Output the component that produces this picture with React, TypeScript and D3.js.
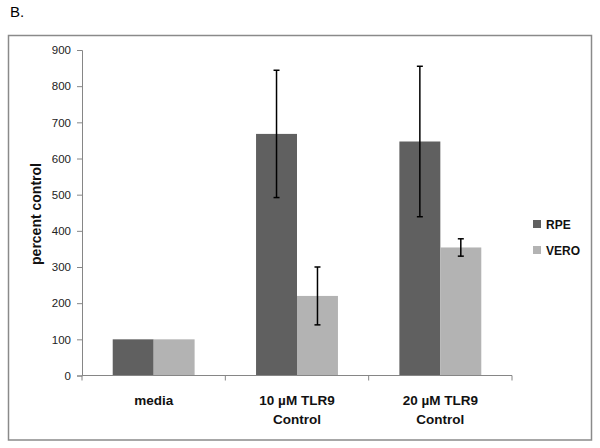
import React, { useRef, useEffect } from 'react';
import * as d3 from 'd3';

const categories = ['media', '10 µM TLR9 Control', '20 µM TLR9 Control'];
const categoryLines = [['media'], ['10 µM TLR9', 'Control'], ['20 µM TLR9', 'Control']];
const series = ['RPE', 'VERO'];
const rpeValues = [100, 668, 647];
const veroValues = [100, 220, 354];
const rpeErrors = [0, 176, 208];
const veroErrors = [0, 80, 24];
const yTicks = [0, 100, 200, 300, 400, 500, 600, 700, 800, 900];

const colors: Record<string, string> = { RPE: '#606060', VERO: '#b3b3b3' };

function App() {
  const ref = useRef<SVGSVGElement>(null);
  const outerWidth = 600, outerHeight = 448;
  const margin = { top: 50, left: 82, right: 88, bottom: 72.5 };

  useEffect(() => {
    const svg = d3.select(ref.current);
    svg.selectAll('*').remove();

    const width = outerWidth - margin.left - margin.right;
    const height = outerHeight - margin.top - margin.bottom;

    const rows = categories.map((c, i) => ({
      cat: c,
      values: [
        { key: 'RPE', value: rpeValues[i], err: rpeErrors[i] },
        { key: 'VERO', value: veroValues[i], err: veroErrors[i] },
      ],
    }));

    // frame
    svg.append('rect')
      .attr('x', 8.5).attr('y', 35.5)
      .attr('width', 583).attr('height', 404.5)
      .attr('fill', 'none').attr('stroke', '#8a8a8a').attr('stroke-width', 1.5);

    svg.append('text')
      .attr('x', 10).attr('y', 17)
      .style('font-family', 'Liberation Sans, Arial, sans-serif')
      .style('font-size', '15px')
      .text('B.');

    const g = svg.append('g').attr('transform', `translate(${margin.left},${margin.top})`);

    const x0 = d3.scaleBand().domain(categories).range([0, width]).padding(0);
    const x1 = d3.scaleBand().domain(series).range([0, x0.bandwidth()]).paddingInner(0).paddingOuter(0.75);
    const y = d3.scaleLinear().domain([0, 900]).range([height, 0]);

    // y axis
    const yAxis = g.append('g')
      .call(d3.axisLeft(y).tickValues(yTicks).tickSize(5).tickPadding(6));
    yAxis.select('.domain').attr('stroke', '#868686');
    yAxis.selectAll('line').attr('stroke', '#868686');
    yAxis.selectAll('text')
      .style('font-family', 'Liberation Sans, Arial, sans-serif')
      .style('font-size', '11.5px')
      .attr('fill', '#222');

    // bars
    const groups = g.selectAll('g.cat').data(rows).enter().append('g')
      .attr('class', 'cat')
      .attr('transform', (d) => `translate(${x0(d.cat)},0)`);

    groups.selectAll('rect').data((d) => d.values).enter().append('rect')
      .attr('x', (d) => x1(d.key)!)
      .attr('y', (d) => y(d.value))
      .attr('width', x1.bandwidth())
      .attr('height', (d) => height - y(d.value))
      .attr('fill', (d) => colors[d.key]);

    // error bars
    const errs = groups.selectAll('g.err').data((d) => d.values.filter((v) => v.err > 0)).enter().append('g')
      .attr('class', 'err');
    const cx = (d: any) => x1(d.key)! + x1.bandwidth() / 2;
    errs.append('line')
      .attr('x1', cx).attr('x2', cx)
      .attr('y1', (d) => y(d.value + d.err)).attr('y2', (d) => y(d.value - d.err))
      .attr('stroke', '#000').attr('stroke-width', 1.5);
    [1, -1].forEach((s) => {
      errs.append('line')
        .attr('x1', (d) => cx(d) - 3).attr('x2', (d) => cx(d) + 3)
        .attr('y1', (d) => y(d.value + s * d.err)).attr('y2', (d) => y(d.value + s * d.err))
        .attr('stroke', '#000').attr('stroke-width', 1.5);
    });

    // x axis
    const xAxis = g.append('g').attr('transform', `translate(0,${height})`);
    xAxis.append('line').attr('x1', 0).attr('x2', width).attr('stroke', '#868686');
    const bounds = [0, ...categories.map((c) => x0(c)! + x0.bandwidth())];
    xAxis.selectAll('line.tick').data(bounds).enter().append('line')
      .attr('class', 'tick')
      .attr('x1', (d) => d).attr('x2', (d) => d)
      .attr('y1', 0).attr('y2', 5)
      .attr('stroke', '#868686');

    const labels = xAxis.selectAll('text').data(categories).enter().append('text')
      .attr('x', (d) => x0(d)! + x0.bandwidth() / 2)
      .attr('y', 29)
      .attr('text-anchor', 'middle')
      .style('font-family', 'Liberation Sans, Arial, sans-serif')
      .style('font-size', '13.5px')
      .style('font-weight', 'bold')
      .attr('fill', '#111');
    labels.each(function (d, i) {
      const t = d3.select(this);
      categoryLines[i].forEach((line, j) => {
        t.append('tspan')
          .attr('x', x0(d)! + x0.bandwidth() / 2)
          .attr('dy', j === 0 ? 0 : 19)
          .text(line);
      });
    });

    // y label
    svg.append('text')
      .attr('transform', 'translate(41,214) rotate(-90)')
      .attr('text-anchor', 'middle')
      .style('font-family', 'Liberation Sans, Arial, sans-serif')
      .style('font-size', '14px')
      .style('font-weight', 'bold')
      .attr('fill', '#111')
      .text('percent control');

    // legend
    const legend = svg.append('g').attr('transform', 'translate(533,220)');
    series.forEach((s, i) => {
      const row = legend.append('g').attr('transform', `translate(0,${i * 26})`);
      row.append('rect').attr('width', 8).attr('height', 8).attr('fill', colors[s]);
      row.append('text')
        .attr('x', 13).attr('y', 8.5)
        .style('font-family', 'Liberation Sans, Arial, sans-serif')
        .style('font-size', '12px')
        .style('font-weight', 'bold')
        .attr('fill', '#111')
        .text(s);
    });
  }, []);

  return (
    <div className="chart">
      <svg ref={ref} width={outerWidth} height={outerHeight}
        style={{ position: 'absolute', left: 0, top: 0, background: '#fff' }}>
      </svg>
    </div>
  );
}

export default App;
